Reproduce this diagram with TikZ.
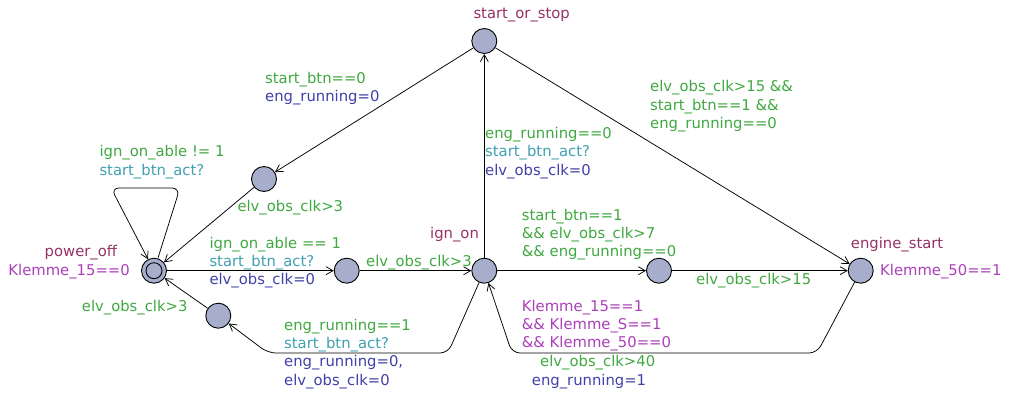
\documentclass[tikz,border=0pt]{standalone}
\usepackage{fontspec}
\setmainfont{DejaVu Sans}
\usetikzlibrary{arrows.meta}

\definecolor{locfill}{RGB}{166,174,204}
\definecolor{namecol}{RGB}{150,50,100}
\definecolor{invcol}{RGB}{170,64,184}
\definecolor{guardcol}{RGB}{64,168,64}
\definecolor{synccol}{RGB}{64,160,176}
\definecolor{updcol}{RGB}{64,64,170}

\begin{document}
\begin{tikzpicture}[x=1pt,y=-1pt,
  loc/.style={circle, draw=black, fill=locfill, minimum size=25pt, inner sep=0pt, line width=0.9pt},
  lbl/.style={inner sep=0pt, anchor=base west, font=\fontsize{14.8}{18}\selectfont},
  locname/.style={lbl, text=namecol},
  inv/.style={lbl, text=invcol},
  guard/.style={lbl, text=guardcol},
  sync/.style={lbl, text=synccol},
  upd/.style={lbl, text=updcol},
  trans/.style={draw=black, line width=0.75pt, rounded corners=8pt,
    -{Straight Barb[length=7pt,width=8pt]}},
]
\useasboundingbox (0,0) rectangle (1010,392);

% locations
\node[loc] (poweroff) at (154,270.7) {};
\draw[line width=0.9pt] (poweroff.center) circle[radius=8pt];
\node[loc] (wait1) at (346.7,270.7) {};
\node[loc] (ignon) at (484.3,270.7) {};
\node[loc] (wait2) at (659,270.7) {};
\node[loc] (enginestart) at (860.7,270.7) {};
\node[loc] (startstop) at (484.3,41) {};
\node[loc] (waitup) at (264,179) {};
\node[loc] (waitlow) at (218.3,315.7) {};

% location names and invariants
\node[locname, anchor=base east] at (117.3,256.7) {power\_off};
\node[inv, anchor=base east] at (130,275) {Klemme\_15==0};
\node[locname] at (430,238.3) {ign\_on};
\node[locname] at (473.3,18.3) {start\_or\_stop};
\node[locname] at (850.7,248.3) {engine\_start};
\node[inv] at (880,275) {Klemme\_50==1};

% bend points
\coordinate (loopR) at (180,188);
\coordinate (loopL) at (111,188);
\coordinate (esA) at (817,353);
\coordinate (esB) at (512,353);
\coordinate (ioA) at (448,353);
\coordinate (ioB) at (268,353);

% transitions
\draw[trans] (poweroff) -- (loopR) -- (loopL) -- (poweroff);
\draw[trans] (poweroff) -- (wait1);
\draw[trans] (wait1) -- (ignon);
\draw[trans] (ignon) -- (startstop);
\draw[trans] (startstop) -- (waitup);
\draw[trans] (waitup) -- (poweroff);
\draw[trans] (startstop) -- (enginestart);
\draw[trans] (ignon) -- (wait2);
\draw[trans] (wait2) -- (enginestart);
\draw[trans] (enginestart) -- (esA) -- (esB) -- (ignon);
\draw[trans] (ignon) -- (ioA) -- (ioB) -- (waitlow);
\draw[trans] (waitlow) -- (poweroff);

% self loop on power_off
\node[guard] at (99.3,156.7) {ign\_on\_able != 1};
\node[sync] at (99.3,175) {start\_btn\_act?};

% power_off -> wait1
\node[guard] at (209.3,248.3) {ign\_on\_able == 1};
\node[sync] at (209.3,266.5) {start\_btn\_act?};
\node[upd] at (209.3,284.5) {elv\_obs\_clk=0};

% wait1 -> ign_on
\node[guard] at (366,266) {elv\_obs\_clk>3};

% ign_on -> start_or_stop
\node[guard] at (485,138.3) {eng\_running==0};
\node[sync] at (485,156.6) {start\_btn\_act?};
\node[upd] at (485,175) {elv\_obs\_clk=0};

% start_or_stop -> waitup
\node[guard] at (265,83.3) {start\_btn==0};
\node[upd] at (265,101.6) {eng\_running=0};

% waitup -> power_off
\node[guard] at (237.3,211) {elv\_obs\_clk>3};

% start_or_stop -> engine_start
\node[guard] at (650,91.7) {elv\_obs\_clk>15 \&\&};
\node[guard] at (650,110) {start\_btn==1 \&\&};
\node[guard] at (650,128.3) {eng\_running==0};

% ign_on -> wait2
\node[guard] at (521.7,220) {start\_btn==1};
\node[guard] at (521.7,238.3) {\&\& elv\_obs\_clk>7};
\node[guard] at (521.7,256.6) {\&\& eng\_running==0};

% wait2 -> engine_start
\node[guard] at (696,284.3) {elv\_obs\_clk>15};

% engine_start -> ign_on
\node[inv] at (521.7,311) {Klemme\_15==1};
\node[inv] at (521.7,329.3) {\&\& Klemme\_S==1};
\node[inv] at (521.7,347.6) {\&\& Klemme\_50==0};
\node[guard] at (540,366.7) {elv\_obs\_clk>40};
\node[upd] at (531.7,385) {eng\_running=1};

% ign_on -> waitlow
\node[guard] at (284,330.7) {eng\_running==1};
\node[sync] at (284,348.7) {start\_btn\_act?};
\node[upd] at (284,366.7) {eng\_running=0,};
\node[upd] at (284,385) {elv\_obs\_clk=0};

% waitlow -> power_off
\node[guard] at (81.7,311) {elv\_obs\_clk>3};
\end{tikzpicture}
\end{document}
